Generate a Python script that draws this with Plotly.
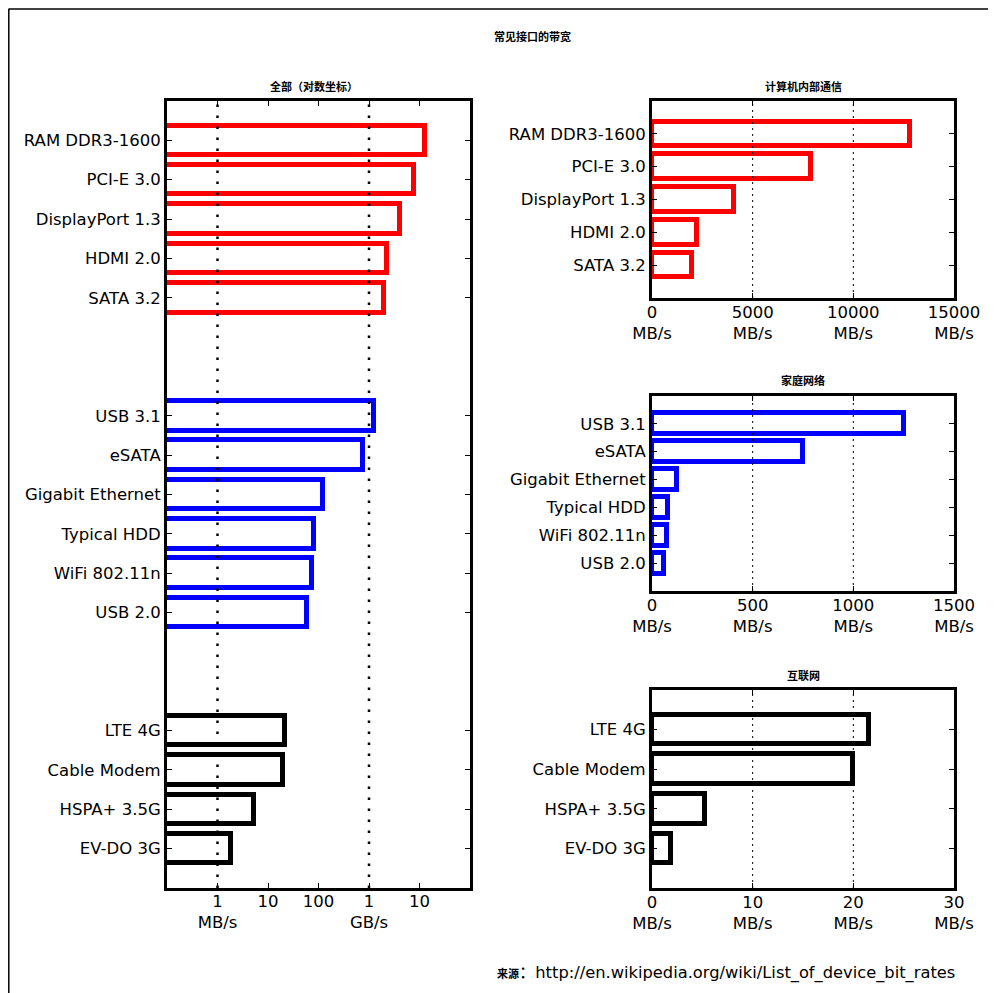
import plotly.graph_objects as go

W, H = 996, 993
OX, OY = 8, 8  # page body margin compensation

# ---------------- data ----------------
internal_names = ["RAM DDR3-1600", "PCI-E 3.0", "DisplayPort 1.3", "HDMI 2.0", "SATA 3.2"]
internal_vals = [12800, 7880, 4080, 2250, 1970]  # MB/s

home_names = ["USB 3.1", "eSATA", "Gigabit Ethernet", "Typical HDD", "WiFi 802.11n", "USB 2.0"]
home_vals = [1250, 750, 125, 80, 75, 60]  # MB/s

inet_names = ["LTE 4G", "Cable Modem", "HSPA+ 3.5G", "EV-DO 3G"]
inet_vals = [21.6, 20, 5.25, 1.84]  # MB/s

log_tickvals = [1, 10, 100, 1000, 10000]
log_ticktext = ["1<br>MB/s", "10", "100", "1<br>GB/s", "10"]

internal_ticks = [0, 5000, 10000, 15000]
home_ticks = [0, 500, 1000, 1500]
inet_ticks = [0, 10, 20, 30]

groups = [
    (internal_names, internal_vals, "#ff0000"),
    (home_names, home_vals, "#0000ff"),
    (inet_names, inet_vals, "#000000"),
]

FONT = "DejaVu Sans"
CJK = "Noto Sans CJK SC"
BAR_H = 0.75
LW = 5

def fx(x):
    return (x - OX) / W

def fy(y):
    return 1 - (y - OY) / H

def px_x(a, b):
    return [fx(a), fx(b)]

def px_y(top, bottom):
    return [fy(bottom), fy(top)]

fig = go.Figure()

# ---------- left (log) chart: all groups, with gaps of 2 slots ----------
pos = 0
left_pos, left_names = [], []
for names, vals, col in groups:
    ys = list(range(pos, pos + len(names)))
    fig.add_trace(go.Bar(
        x=vals, y=ys, orientation="h", width=BAR_H,
        marker=dict(color="rgba(0,0,0,0)", line=dict(color=col, width=LW)),
        xaxis="x", yaxis="y", showlegend=False, hoverinfo="skip",
    ))
    left_pos += ys
    left_names += names
    pos += len(names) + 2
left_max = pos - 2

# ---------- right charts ----------
right_axes = [("x2", "y2"), ("x3", "y3"), ("x4", "y4")]
for (names, vals, col), (xa, ya) in zip(groups, right_axes):
    fig.add_trace(go.Bar(
        x=vals, y=list(range(len(names))), orientation="h", width=BAR_H,
        marker=dict(color="rgba(0,0,0,0)", line=dict(color=col, width=LW)),
        xaxis=xa, yaxis=ya, showlegend=False, hoverinfo="skip",
    ))

tickfont = dict(family=FONT, size=16.5, color="black")
axis_common = dict(
    showline=True, linewidth=3, linecolor="black", mirror="allticks",
    ticks="inside", ticklen=5, tickwidth=1.2, tickcolor="black",
    showgrid=False, zeroline=False, tickfont=tickfont, fixedrange=True,
    automargin=False,
)

layout = dict(
    width=W, height=H, margin=dict(l=0, r=0, t=0, b=0, autoexpand=False),
    paper_bgcolor="white", plot_bgcolor="white",
    bargap=0, showlegend=False,
)

layout["xaxis"] = dict(axis_common, type="log", range=[-1, 5], domain=px_x(167, 470),
                       tickvals=log_tickvals, ticktext=log_ticktext, anchor="y",
                       ticklabelstandoff=-4)
layout["yaxis"] = dict(axis_common, range=[left_max, -1], domain=px_y(101, 888),
                       tickvals=left_pos, ticktext=left_names, anchor="x")

right_specs = [
    (internal_names, internal_ticks, px_y(101, 298)),
    (home_names, home_ticks, px_y(396, 591)),
    (inet_names, inet_ticks, px_y(690, 888)),
]
for i, (names, ticks, ydom) in enumerate(right_specs):
    n = i + 2
    layout[f"xaxis{n}"] = dict(axis_common, range=[ticks[0], ticks[-1]], domain=px_x(652, 954),
                               tickvals=ticks, ticktext=[f"{t}<br>MB/s" for t in ticks],
                               anchor=f"y{n}", ticklabelstandoff=-3)
    layout[f"yaxis{n}"] = dict(axis_common, range=[len(names), -1], domain=ydom,
                               tickvals=list(range(len(names))), ticktext=names,
                               anchor=f"x{n}")

shapes = []
for v in [1, 1000]:
    shapes.append(dict(type="line", xref="x", yref="y domain", x0=v, x1=v, y0=0, y1=1,
                       line=dict(color="black", width=2.5, dash="2.5px,8.5px"), layer="above"))
for (names, ticks, ydom), n in zip(right_specs, [2, 3, 4]):
    for v in ticks[1:-1]:
        shapes.append(dict(type="line", xref=f"x{n}", yref=f"y{n} domain", x0=v, x1=v, y0=0, y1=1,
                           line=dict(color="black", width=1, dash="2px,4px"), layer="above"))
# outer frame (top and left)
shapes.append(dict(type="line", xref="paper", yref="paper", x0=fx(8.5), x1=fx(1010), y0=fy(9), y1=fy(9),
                   line=dict(color="black", width=1.5)))
shapes.append(dict(type="line", xref="paper", yref="paper", x0=fx(8.8), x1=fx(8.8), y0=fy(9), y1=fy(1010),
                   line=dict(color="black", width=1.5)))
layout["shapes"] = shapes

def title_ann(text, xc, yc, size=11):
    return dict(text=f"<b>{text}</b>", x=fx(xc), y=fy(yc), xref="paper", yref="paper",
                xanchor="center", yanchor="middle", showarrow=False,
                font=dict(family=CJK, size=size, color="black"))

annotations = [
    title_ann("常见接口的带宽", 532, 36),
    title_ann("全部（对数坐标）", 314, 86),
    title_ann("计算机内部通信", 803, 86),
    title_ann("家庭网络", 803, 380),
    title_ann("互联网", 803, 675),
    dict(text=f'<span style="font-family:{CJK};font-size:11px;font-weight:bold">来源</span>'
              f'<span style="font-family:{CJK}">：</span>'
              'http://en.wikipedia.org/wiki/List_of_device_bit_rates',
         x=fx(957), y=fy(971), xref="paper", yref="paper", xanchor="right", yanchor="middle",
         showarrow=False, font=dict(family=FONT, size=16.3, color="black")),
]
layout["annotations"] = annotations

fig.update_layout(**layout)
fig.write_html("out.html")
